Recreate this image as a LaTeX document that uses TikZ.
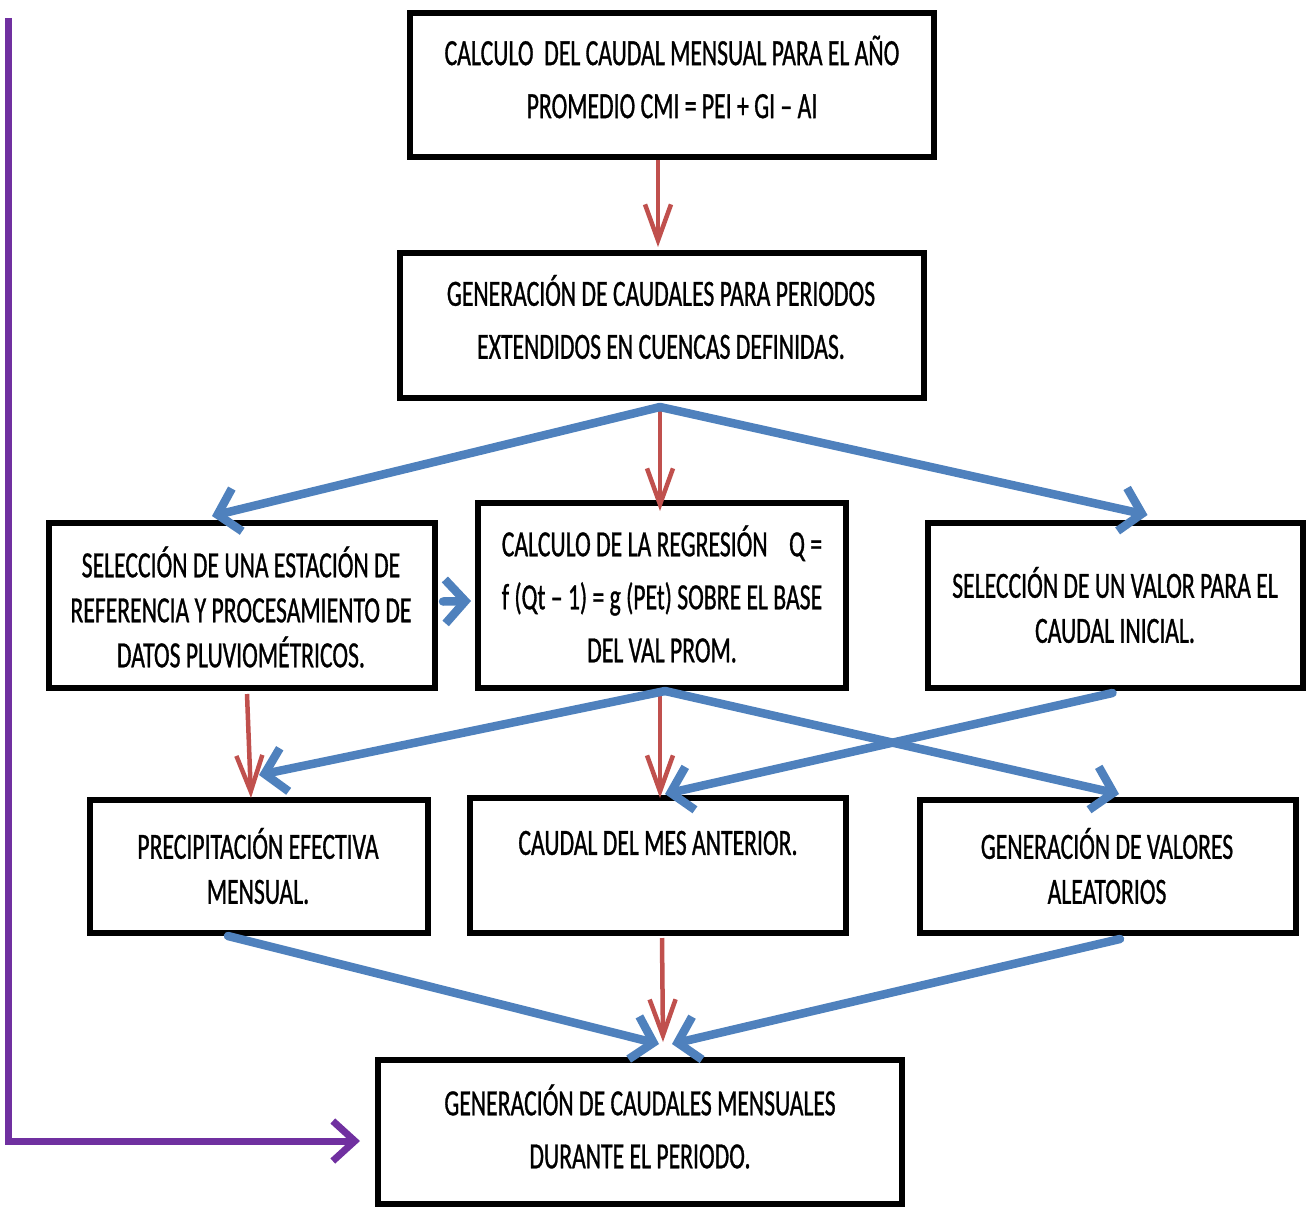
\documentclass[tikz,border=0pt]{standalone}
\usepackage{fontspec}
\setmainfont{Carlito}[FakeStretch=0.64,FakeBold=0.8]
\usetikzlibrary{arrows.meta,calc}
\definecolor{ablue}{HTML}{4F81BD}
\definecolor{ared}{HTML}{C0504D}
\definecolor{apurple}{HTML}{7030A0}
\begin{document}
\begin{tikzpicture}[x=1pt,y=-1pt,
  box/.style={draw=black,line width=6pt,rectangle,inner sep=0pt},
  lbl/.style={align=center,inner sep=0pt,font=\fontsize{37}{53}\selectfont},
  lbls/.style={align=center,inner sep=0pt,font=\fontsize{37}{45}\selectfont},
  bluearr/.style={draw=ablue,line width=8.5pt,line cap=round,-{Straight Barb[length=20pt,width=44pt]}},
  redarr/.style={draw=ared,line width=4.5pt,-{Straight Barb[length=36pt,width=26pt]}},
  purarr/.style={draw=apurple,line width=7pt,-{Straight Barb[length=22pt,width=40pt]}}]
\useasboundingbox (0,0) rectangle (1311,1207);
% boxes
\node[box,minimum width=524pt,minimum height=144pt] (b1) at (672,85) {};
\node[box,minimum width=524pt,minimum height=145pt] (b2) at (662,325.5) {};
\node[box,minimum width=386pt,minimum height=165pt] (b3) at (242,605.5) {};
\node[box,minimum width=368pt,minimum height=185pt] (b4) at (662,595.5) {};
\node[box,minimum width=375pt,minimum height=165pt] (b5) at (1115.5,605.5) {};
\node[box,minimum width=338pt,minimum height=133pt] (b6) at (259,866.5) {};
\node[box,minimum width=376pt,minimum height=135pt] (b7) at (658,865.5) {};
\node[box,minimum width=376pt,minimum height=133pt] (b8) at (1108,866.5) {};
\node[box,minimum width=524pt,minimum height=144pt] (b9) at (640,1132) {};
% labels
\node[lbl] (t1) at (672,77) {CALCULO\ \ DEL CAUDAL MENSUAL PARA EL AÑO\\PROMEDIO CMI = PEI + GI – AI};
\node[lbl] (t2) at (661,317) {GENERACIÓN DE CAUDALES PARA PERIODOS\\EXTENDIDOS EN CUENCAS DEFINIDAS.};
\node[lbls] (t3) at (241,607) {SELECCIÓN DE UNA ESTACIÓN DE\\REFERENCIA Y PROCESAMIENTO DE\\DATOS PLUVIOMÉTRICOS.};
\node[lbl] (t4) at (662,594) {CALCULO DE LA REGRESIÓN\ \ \ \ Q =\\f (Qt – 1) = g (PEt) SOBRE EL BASE\\DEL VAL PROM.};
\node[lbls] (t5) at (1115,605) {SELECCIÓN DE UN VALOR PARA EL\\CAUDAL INICIAL.};
\node[lbls] (t6) at (258,866) {PRECIPITACIÓN EFECTIVA\\MENSUAL.};
\node[lbls] (t7) at (658,843) {CAUDAL DEL MES ANTERIOR.};
\node[lbls] (t8) at (1107,866) {GENERACIÓN DE VALORES\\ALEATORIOS};
\node[lbl] (t9) at (640,1126.5) {GENERACIÓN DE CAUDALES MENSUALES\\DURANTE EL PERIODO.};
% hubs
\coordinate (h1) at ($(b2.south)+(-2,6)$);
\coordinate (h2) at ($(b4.south)+(3,0)$);
\coordinate (pstart) at (8,18);
% connectors
\draw[redarr] ($(b1.south)+(-14,0)$) -- ($(b2.north)+(-4,-3)$);
\draw[redarr] (h1) -- ($(b4.north)+(-2,11)$);
\draw[bluearr] (h1) -- ($(b3.north)+(-30,-4)$);
\draw[bluearr] (h1) -- ($(b5.north)+(32,-5)$);
\draw[bluearr] ($(b3.east)+(5,-4)$) -- ($(b4.west)+(-4,5.5)$);
\draw[redarr] ($(b3.south)+(5,3)$) -- ($(b6.north)+(-8,1)$);
\draw[redarr] ($(b4.south)+(-2,5)$) -- ($(b7.north)+(2,3)$);
\draw[bluearr] (h2) -- ($(b6.north)+(0,-22)$);
\draw[bluearr] (h2) -- ($(b8.north)+(11,-3)$);
\draw[bluearr] ($(b5.south)+(-3,2)$) -- ($(b7.north)+(7,-1)$);
\draw[bluearr] ($(b6.south)+(-31,0)$) -- ($(b9.north)+(19,-13)$);
\draw[redarr] ($(b7.south)+(4,2)$) -- ($(b9.north)+(23,-15)$);
\draw[bluearr] ($(b8.south)+(12,3)$) -- ($(b9.north)+(32,-13)$);
\draw[purarr] (pstart) |- ($(b9.west)+(-15,9)$);
\end{tikzpicture}
\end{document}
